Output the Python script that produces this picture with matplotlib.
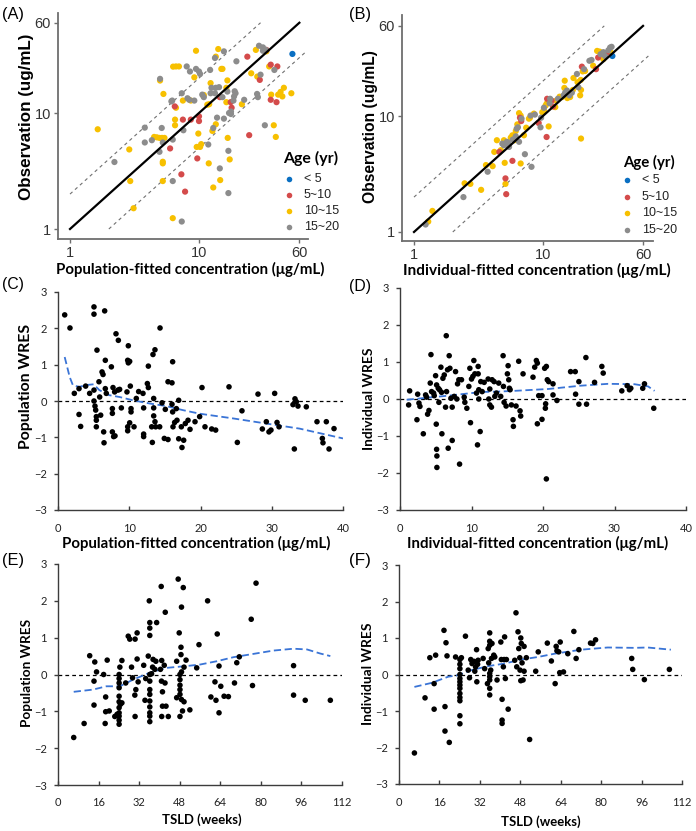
import matplotlib
matplotlib.use("Agg")
import matplotlib.pyplot as plt
from matplotlib.lines import Line2D
import numpy as np

# ---------------- DATA ----------------
age_groups = ["< 5", "5~10", "10~15", "15~20"]
age_colors = {"B": "#0a6fc2", "R": "#d44b4b", "Y": "#f7c000", "G": "#8c8c8c"}
age_codes = ["B", "R", "Y", "G"]

# Panel A: population-fitted vs observed
popA_pred = [1.64, 2.21, 2.88, 2.93, 3.11, 3.80, 3.80, 4.31, 4.49, 4.71, 4.94, 4.94, 4.99, 4.99, 5.14,
             5.17, 5.24, 5.30, 5.24, 5.24, 5.24, 5.40, 5.97, 6.11, 6.20, 6.26, 6.26, 6.26, 6.30, 6.49,
             6.52, 6.52, 6.63, 6.63, 6.99, 7.30, 7.35, 7.50, 7.50, 7.57, 7.80, 7.35, 8.03, 8.14, 8.40,
             8.51, 8.64, 8.64, 9.20, 9.20, 9.48, 9.48, 9.60, 9.88, 10.0, 10.0, 9.70, 10.0, 10.2, 10.2,
             10.4, 10.6, 10.8, 10.9, 10.9, 11.6, 11.8, 11.9, 12.0, 12.2, 12.3, 12.3, 12.5, 12.7, 12.9,
             12.9, 13.3, 13.5, 13.3, 13.5, 13.5, 13.8, 14.1, 14.3, 14.5, 14.5, 14.6, 14.9, 15.2, 15.2,
             15.6, 15.6, 16.3, 16.3, 16.6, 16.6, 16.7, 16.9, 16.9, 17.1, 17.6, 17.7, 17.7, 17.9, 17.3,
             18.5, 18.7, 19.2, 19.5, 18.9, 21.5, 22.4, 23.7, 24.5, 25.4, 27.6, 28.3, 28.2, 28.6, 29.2,
             29.6, 30.0, 31.3, 31.3, 32.4, 33.0, 33.3, 33.3, 35.0, 36.0, 36.0, 38.0, 36.3, 39.4, 39.9,
             40.5, 38.4, 41.1, 42.9, 44.3, 45.5, 52.0, 53.0]
obsA = [7.24, 3.78, 4.85, 2.59, 1.51, 7.48, 5.57, 5.83, 6.22, 6.17, 4.63, 6.10, 19.05, 19.7, 7.43,
        6.10, 5.57, 14.6, 3.80, 3.68, 2.59, 6.10, 4.95, 12.6, 12.8, 5.90, 2.59, 1.24, 25.1, 11.4,
        8.77, 7.84, 25.2, 11.1, 25.2, 2.96, 14.8, 12.8, 8.77, 7.10, 2.10, 1.16, 25.2, 13.4, 13.0,
        22.8, 12.8, 8.77, 12.8, 20.3, 34.4, 24.0, 5.10, 6.65, 9.36, 8.52, 4.06, 22.8, 21.7, 5.10,
        5.39, 14.4, 14.1, 14.3, 13.7, 11.8, 5.35, 3.68, 11.9, 23.5, 14.8, 18.1, 16.5, 7.01, 7.43,
        2.28, 29.8, 30.6, 14.8, 16.5, 8.0, 9.12, 35.6, 16.7, 13.7, 3.33, 2.64, 24.0, 24.0, 13.7,
        34.0, 8.94, 12.4, 16.5, 19.1, 15.3, 6.10, 4.72, 2.04, 10.0, 12.4, 10.3, 9.8, 11.1, 3.98,
        12.8, 13.9, 14.8, 27.9, 15.4, 11.9, 13.0, 30.6, 6.44, 22.0, 35.0, 20.6, 14.6, 13.7, 38.0,
        19.3, 21.4, 34.4, 36.8, 7.84, 35.0, 34.0, 35.0, 25.2, 26.1, 13.0, 7.84, 14.4, 6.22, 12.4,
        25.2, 23.5, 14.4, 15.2, 13.9, 16.5, 14.8, 32.3]
ageA = list("YGYYYGGGYY" "GYYGGYGYYY" "YYRGGGGYYR" "YYYYYRGYRG" "RGGGGGYRGY" "YGYYRRRGGY"
            "YGYYGYGYYG" "GYGYGYGYGG" "YGYGRGYYYG" "GGYYYGYGGG" "RGGRYGGGGG" "YGRRYYYGGG"
            "RGGGGGYRYR" "RYYYRRGYYY" "YYB")

# Panel B: individual-fitted vs observed
indB_pred = [1.23, 1.29, 1.39, 2.42, 2.47, 2.74, 3.32, 3.62, 3.73, 4.08, 4.20, 4.40, 4.60, 4.72, 4.85,
             4.99, 4.99, 5.06, 5.13, 5.13, 5.20, 5.26, 5.38, 5.47, 5.64, 5.81, 5.81, 5.85, 6.00, 6.17,
             6.17, 6.27, 6.34, 6.41, 6.54, 6.65, 6.73, 6.80, 6.84, 6.73, 6.54, 7.14, 7.26, 7.43, 7.80,
             7.95, 8.03, 8.17, 8.53, 8.68, 9.29, 9.70, 9.60, 9.90, 10.2, 10.2, 10.5, 10.7, 10.8, 10.7,
             11.1, 11.3, 11.4, 11.7, 12.0, 12.5, 12.7, 13.1, 13.5, 14.1, 14.5, 14.7, 14.8, 14.9, 15.4,
             15.5, 16.1, 16.3, 16.8, 17.1, 17.3, 18.4, 18.6, 18.9, 19.5, 19.7, 19.8, 20.1, 20.4, 20.9,
             21.3, 19.8, 23.0, 23.9, 24.6, 25.9, 26.4, 26.9, 27.6, 28.1, 29.5, 30.4, 31.3, 32.3, 33.3,
             34.2, 33.6, 34.7, 29.5]
obsB = [1.16, 1.23, 1.52, 2.00, 2.63, 2.60, 2.31, 3.78, 3.31, 3.70, 4.91, 6.19, 4.91, 5.08, 5.79,
        6.19, 5.60, 3.95, 2.90, 2.60, 2.12, 6.00, 5.87, 5.42, 6.52, 4.11, 6.83, 6.27, 6.19, 7.44,
        6.69, 7.79, 8.48, 8.00, 6.00, 9.68, 3.90, 9.06, 9.50, 10.1, 10.6, 6.83, 4.69, 7.94, 9.50,
        9.68, 10.1, 3.65, 10.5, 10.3, 8.71, 9.68, 8.00, 10.8, 11.2, 11.8, 12.3, 12.8, 14.1, 6.60,
        8.14, 12.9, 14.1, 13.6, 12.1, 11.95, 13.6, 14.1, 14.7, 14.6, 15.1, 17.5, 20.2, 15.9, 16.6,
        14.3, 15.1, 14.6, 15.9, 16.8, 21.3, 23.1, 19.6, 17.7, 15.1, 20.5, 16.8, 26.7, 24.3, 25.4,
        24.5, 6.40, 30.0, 30.5, 27.2, 25.4, 36.5, 32.0, 36.0, 34.2, 35.6, 33.0, 35.0, 37.0, 39.0,
        39.6, 35.6, 33.0, 31.0]
ageB = list("GYYGYYYYGY" "YYRYGYGYRY" "RGGGYRYGYY" "GGYGGRYRGY" "YYGYYYGGYG" "RGGYYGYYRR"
            "YGGRRYYGYY" "GYYGGYGYGY" "YGYGYYYRYG" "YYGGYRYRYG" "GGRGGGYBY")

# Panel C: population WRES vs population-fitted concentration
C_x = [0.94, 1.68, 2.29, 2.95, 2.95, 3.18, 3.88, 4.44, 5.05, 5.05, 5.05, 5.05, 5.19, 5.29, 5.38, 5.38,
       5.47, 5.38, 5.75, 5.85, 5.99, 6.18, 6.32, 6.41, 6.46, 6.55, 6.64, 6.64, 6.78, 7.49, 7.63, 7.63,
       7.63, 7.81, 8.00, 7.72, 7.95, 8.14, 8.47, 8.42, 8.65, 8.89, 9.68, 9.78, 9.87, 9.87, 9.78, 9.78,
       10.06, 10.25, 10.25, 10.06, 10.15, 10.67, 10.99, 11.32, 11.93, 12.02, 12.02, 12.02, 12.54, 12.68,
       12.68, 13.15, 13.24, 13.33, 13.43, 13.43, 13.43, 13.61, 13.61, 13.71, 14.32, 14.27, 14.60, 14.92,
       15.06, 15.44, 15.44, 16.00, 16.00, 16.09, 16.09, 16.14, 16.37, 16.61, 16.70, 16.94, 16.94, 17.31,
       17.40, 17.64, 17.87, 18.25, 18.53, 19.23, 19.88, 20.21, 20.63, 21.57, 22.13, 24.00, 25.17, 25.82,
       28.07, 28.68, 29.24, 29.61, 29.89, 30.41, 30.74, 31.02, 32.98, 33.17, 33.26, 33.45, 33.68, 34.85,
       36.35, 37.10, 37.19, 37.66, 38.04, 38.74]
C_y = [2.37, 2.01, 0.21, 0.34, -0.37, -0.70, 0.41, 0.21, 2.59, 2.39, 0.30, 0.00, -0.14, -0.25, -0.53,
       -0.43, 1.40, -0.71, 0.53, 0.11, -0.39, 0.80, 0.73, -0.85, -1.15, 2.48, 1.12, 0.34, 0.21, 0.94,
       -0.21, -0.34, -0.85, -0.98, -0.96, 0.37, 0.25, 1.85, 1.67, 0.30, 0.32, -0.19, 0.25, 1.12, 1.05,
       1.52, -0.71, -0.82, 1.09, -0.21, -0.30, -0.60, 0.41, -0.71, 0.07, 0.26, 0.21, -0.19, -0.91, -0.98,
       0.48, 0.96, 0.37, -0.71, -1.14, 1.28, 0.07, -0.19, -0.41, 1.41, -0.57, -0.71, 2.01, -0.71, -0.05,
       -1.03, -0.23, -1.06, 0.53, 0.50, -0.09, 1.08, -0.30, -0.71, -0.59, -0.21, -0.53, 0.02, -1.04,
       -0.71, -1.28, -1.08, -0.62, -0.53, -0.78, -0.57, -0.43, 0.37, -0.71, -0.77, -0.80, 0.39, -1.14,
       -0.27, 0.19, -0.77, -0.57, -0.85, -0.80, 0.21, -0.59, -0.71, -0.10, -1.32, 0.06, -0.02, -0.14,
       -0.16, -0.57, -1.03, -1.15, -0.57, -1.32, -0.76]
C_smooth_x = [0.94, 1.64, 2.1, 3.0, 4.0, 5.0, 5.8, 7.2, 8.65, 10.5, 12.9, 15.2, 17.5, 19.9, 24.6, 29.2, 33.9, 40.0]
C_smooth_y = [1.21, 0.66, 0.43, 0.39, 0.44, 0.46, 0.30, 0.16, 0.11, 0.02, -0.07, -0.14, -0.25, -0.35, -0.48, -0.62, -0.76, -1.03]

# Panel D: individual WRES vs individual-fitted concentration
D_x = [1.21, 1.35, 2.37, 2.47, 2.65, 2.79, 3.26, 3.58, 3.72, 3.86, 4.05, 4.33, 4.23, 4.42, 4.70, 4.79,
       4.98, 5.07, 5.12, 5.16, 5.16, 5.12, 5.35, 5.44, 5.53, 5.72, 5.81, 5.86, 6.00, 6.19, 6.37, 6.47,
       6.51, 6.65, 6.74, 6.88, 6.98, 7.12, 7.30, 7.30, 7.58, 7.77, 7.95, 8.05, 8.23, 8.33, 8.60, 8.98,
       9.07, 9.35, 9.63, 9.77, 9.86, 10.00, 10.19, 10.33, 10.47, 10.70, 10.84, 10.93, 10.93, 11.02,
       11.02, 11.21, 11.30, 11.49, 11.77, 12.33, 12.42, 12.56, 12.56, 12.79, 12.88, 13.16, 13.26, 13.49,
       13.81, 14.09, 14.42, 14.47, 14.56, 14.84, 15.02, 15.12, 15.21, 15.30, 15.40, 15.58, 15.81, 15.86,
       16.23, 16.60, 16.79, 16.88, 17.21, 18.60, 18.84, 19.07, 19.21, 19.21, 19.40, 19.86, 19.86, 20.23,
       20.33, 20.37, 20.47, 20.47, 20.60, 20.79, 21.40, 21.40, 21.95, 23.86, 24.51, 24.56, 25.02, 25.02,
       26.00, 26.09, 27.21, 28.23, 28.42, 31.02, 31.77, 32.09, 32.28, 33.95, 34.19, 35.49]
D_y = [-0.16, 0.22, -0.56, 0.13, -0.11, -0.20, -0.94, 0.11, 0.05, -0.41, -0.31, 1.20, 0.43, 0.20, 0.16,
       0.09, 0.63, -0.68, -1.36, -1.54, -1.85, 0.38, 0.29, -0.09, 0.25, 0.86, 0.18, -0.94, 0.56, 0.65,
       -0.22, 1.71, 0.20, 0.79, -1.33, 1.17, 0.83, 0.02, -1.12, -0.22, 0.07, 0.74, 0.00, 0.41, 0.52,
       -1.76, 0.52, 0.05, -0.09, -0.25, 0.34, 0.83, -0.64, 0.54, 0.61, 1.04, 0.68, 0.16, -1.24, 0.88,
       0.68, 0.25, 0.00, -0.88, 0.47, 0.20, 0.45, 0.54, 0.00, 0.27, -0.16, -0.22, 0.52, 0.47, 0.07,
       0.16, 0.43, 0.07, 1.17, 0.34, -0.09, -0.19, 0.68, 0.90, 0.52, 0.29, 0.25, -0.16, -0.56, -0.74,
       -0.19, 1.02, -0.32, -0.46, 0.68, 0.59, 0.86, 1.04, 0.97, -0.67, 0.09, 0.09, -0.55, 0.83, -0.25,
       -0.13, 0.88, -2.16, 0.52, 0.47, 0.41, 0.11, -0.04, 0.74, 0.74, 0.13, 0.47, -0.14, 1.12, -0.14,
       0.45, 0.88, 0.70, 0.22, 0.36, 0.25, 0.29, 0.29, 0.41, -0.25]
D_smooth_x = [0.93, 6.74, 11.4, 13.7, 16.0, 20.7, 25.3, 29.1, 32.8, 34.7, 35.6]
D_smooth_y = [-0.02, 0.09, 0.19, 0.20, 0.22, 0.27, 0.36, 0.41, 0.40, 0.34, 0.22]

# Panel E: population WRES vs TSLD
E_x = [6.2, 10.3, 12.5, 14.2, 14.5, 14.2, 15.2, 18.0, 18.6, 18.8, 18.8, 19.4, 20.2, 22.4, 23.3,
       24.1, 24.1, 24.1, 24.1, 24.1, 24.1, 24.1, 24.1, 24.1, 24.1, 24.1, 24.4, 24.6, 25.2, 25.2, 26.7,
       27.7, 28.3, 29.0, 29.4, 30.3, 30.4, 30.4, 30.7, 31.2, 31.2, 31.6, 33.8, 34.3, 34.6, 35.6, 36.0,
       36.2, 36.2, 36.2, 36.2, 36.2, 36.2, 36.2, 36.2, 36.2, 36.2, 36.2, 36.2, 36.9, 37.3, 37.5, 38.2,
       38.9, 38.6, 40.4, 40.7, 40.9, 40.8, 41.2, 41.2, 40.9, 41.9, 42.2, 42.3, 42.6, 43.5, 46.8, 46.8,
       47.4, 47.8, 48.1, 48.1, 48.1, 48.1, 48.1, 48.1, 48.5, 48.5, 48.7, 48.7, 48.7, 49.1, 49.4, 49.7,
       49.7, 50.5, 52.0, 54.7, 55.6, 59.0, 60.3, 61.9, 62.3, 62.8, 63.5, 63.5, 64.2, 65.5, 67.2, 69.6,
       70.5, 71.5, 76.2, 76.7, 78.1, 92.9, 92.9, 97.5, 107.4]
E_y = [-1.71, -1.33, 0.51, -0.18, 0.34, -0.83, 0.07, 0.00, -1.33, -0.61, -1.01, 0.39, -0.99, -1.14, -1.08,
       0.00, -0.11, -0.23, -0.36, -0.59, -0.74, -0.90, -1.04, -1.13, -1.24, -1.35, 0.20, -0.81, 0.38, -0.77,
       -0.23, 1.04, 0.96, 0.20, -0.09, -0.56, -1.14, 0.96, -0.41, 1.13, 0.42, -0.20, 0.25, -0.70, -0.11,
       0.50, 2.00, 1.41, 1.26, 1.06, 0.00, -0.18, -0.41, -0.54, -0.72, -0.88, -1.04, -1.13, -1.28, 0.02,
       0.20, 0.41, 0.14, 1.41, 0.36, 0.14, 2.39, 0.38, -0.18, -0.47, -0.86, -1.14, 0.25, -0.23, 1.69,
       -0.86, -1.14, -0.63, 0.36, 2.59, 1.13, 0.00, -0.14, -0.29, -0.41, -0.54, -1.14, 0.74, 0.54, 1.83,
       0.07, -0.68, -0.99, 2.36, 0.20, -0.74, 0.39, -0.96, 0.18, 0.81, 2.00, -0.61, -0.20, -0.70, 1.10,
       0.23, -1.04, -0.32, -0.59, -0.60, -0.23, 0.32, 0.48, 1.50, -0.30, 2.48, 0.24, -0.56, -0.70, -0.70]
E_smooth_x = [6.2, 13.8, 19.1, 24.4, 29.6, 36.2, 42.8, 50.7, 56.0, 62.6, 69.2, 77.1, 85.0, 92.9, 98.2, 103.4, 107.4]
E_smooth_y = [-0.47, -0.41, -0.32, -0.32, -0.14, 0.05, 0.18, 0.23, 0.27, 0.36, 0.47, 0.56, 0.65, 0.70, 0.68, 0.57, 0.50]

# Panel F: individual WRES vs TSLD
F_x = [6.1, 10.3, 12.2, 13.9, 13.9, 14.5, 17.8, 18.2, 18.2, 18.6, 19.0, 19.9, 22.4,
       24.1, 24.1, 24.1, 24.1, 24.1, 24.1, 24.1, 24.1, 24.1, 24.1, 24.1, 24.1, 24.1,
       24.7, 26.3, 27.4, 27.9, 28.4, 28.9, 29.7, 30.0, 30.3, 30.7, 30.8, 31.1, 31.3, 33.3, 33.9, 35.0,
       35.3, 35.5, 35.9, 35.9, 35.9, 35.9, 35.9, 35.9, 35.9, 35.9, 36.3, 36.6, 36.8, 37.5, 37.9, 38.8,
       40.3, 40.5, 40.8, 40.8, 40.8, 41.3, 41.6, 41.8, 42.1, 42.5, 43.2, 45.8, 46.3, 46.6, 47.1, 47.4,
       47.8, 47.9, 48.2, 48.2, 48.4, 48.7, 49.1, 49.5, 49.5, 50.4, 51.7, 54.1, 55.1, 58.7, 60.3, 61.8,
       62.2, 62.5, 63.2, 63.8, 63.6, 65.1, 66.8, 69.2, 70.1, 71.2, 75.8, 76.7, 77.8, 92.1, 92.5, 97.1,
       107.0]
F_y = [-2.15, -0.64, 0.46, -0.25, -0.95, 0.53, 1.21, -0.88, -1.55, 0.87, 0.51, -1.86, 0.48,
       0.00, -0.11, -0.20, -0.29, -0.38, -0.52, -0.63, -0.72, -1.13, -1.35, 0.41, 0.28, 0.16,
       0.46, 1.05, 0.12, -0.09, 0.41, 0.30, 0.36, 0.09, 0.21, 0.68, -0.20, 0.28, 0.39, 0.44, 0.16, -0.25,
       0.71, 0.32, 1.14, 0.91, 0.80, 0.03, -0.06, -0.15, -0.38, -0.56, 0.12, 0.44, 0.85, 0.53, 0.48, -0.15,
       0.89, 0.41, -0.68, -1.25, -1.34, 0.21, 0.41, 1.03, -0.11, 0.41, -0.95, 0.39, 1.69, 0.21, 1.17, 0.71,
       0.46, 0.12, 1.00, -0.17, 0.85, 0.32, -0.15, 0.77, 0.09, 0.46, -1.78, 0.09, 0.62, 0.86, 0.37, -0.25,
       0.77, 0.65, 0.62, 0.89, 0.05, 0.07, 0.57, 1.18, 0.44, 0.68, 0.86, 0.85, 0.95, 0.44, 0.14, -0.14,
       0.14]
F_smooth_x = [6.1, 12.9, 19.5, 23.4, 28.7, 35.3, 41.8, 48.4, 55.0, 61.6, 72.1, 82.6, 93.2, 98.4, 107.6]
F_smooth_y = [-0.34, -0.23, -0.06, -0.02, 0.12, 0.23, 0.30, 0.41, 0.48, 0.57, 0.68, 0.74, 0.73, 0.74, 0.68]

# ---------------- FIGURE ----------------
W, H = 696, 831
fig = plt.figure(figsize=(W / 100, H / 100), dpi=100)
fig.patch.set_facecolor("white")
renderer = fig.canvas.get_renderer()

ARIAL = "Liberation Sans"
CAL = "Lato"


def add_px_axes(l, t, r, b):
    return fig.add_axes([l / W, 1 - b / H, (r - l) / W, (b - t) / H])


def fit_text(x, y, s, target, family, weight="normal", rotation=0, ha="center", color="black"):
    """Place text at pixel position (from top-left) with size tuned to a target length in px."""
    t = fig.text(x / W, 1 - y / H, s, fontsize=10, fontfamily=family, fontweight=weight,
                 rotation=rotation, ha=ha, va="center", color=color)
    bb = t.get_window_extent(renderer)
    length = bb.height if rotation == 90 else bb.width
    t.set_fontsize(10 * target / length)
    return t


def age_legend(title_xy, title_w, marker_x, text_x, rows_y, entry_w):
    fit_text(title_xy[0], title_xy[1], "Age (yr)", title_w, CAL, "bold", ha="left")
    probe = fig.text(0, 0, "10~15", fontsize=10, fontfamily=ARIAL)
    size = 10 * entry_w / probe.get_window_extent(renderer).width
    probe.remove()
    for code, lab, ry in zip(age_codes, age_groups, rows_y):
        fig.add_artist(Line2D([marker_x / W], [1 - ry / H], transform=fig.transFigure, marker="o",
                              ls="none", markersize=4.0, markerfacecolor=age_colors[code],
                              markeredgecolor="none"))
        fig.text(text_x / W, 1 - ry / H, lab, fontsize=size, fontfamily=ARIAL, ha="left",
                 va="center", color="#222222")


def gof_panel(ax, xs, ys, ages, xlim, ylim):
    ax.set_xscale("log")
    ax.set_yscale("log")
    ax.set_xlim(*xlim)
    ax.set_ylim(*ylim)
    xs = np.array(xs)
    ys = np.array(ys)
    ages = np.array(ages)
    ax.plot([1, 60], [1, 60], color="black", lw=1.6, zorder=3)
    ax.plot([1, 30], [2, 60], color="#707070", lw=0.8, ls=(0, (3, 3)), zorder=1)
    ax.plot([2, 66], [1, 33], color="#707070", lw=0.8, ls=(0, (3, 3)), zorder=1)
    for code in ["Y", "R", "G", "B"]:
        m = ages == code
        ax.scatter(xs[m], ys[m], s=20, color=age_colors[code], edgecolors="none", zorder=2)
    for s in ["top", "right"]:
        ax.spines[s].set_visible(False)
    for s in ["left", "bottom"]:
        ax.spines[s].set_color("#6e6e6e")
        ax.spines[s].set_linewidth(1.3)
    ax.set_xticks([1, 10, 60])
    ax.set_xticklabels(["1", "10", "60"])
    ax.set_yticks([1, 10, 60])
    ax.set_yticklabels(["1", "10", "60"])
    ax.minorticks_off()
    ax.tick_params(axis="both", length=3, width=1, color="#6e6e6e", labelsize=10.5,
                   labelcolor="#333333", pad=2)
    for lab in ax.get_xticklabels() + ax.get_yticklabels():
        lab.set_fontfamily(ARIAL)


def wres_panel(ax, xs, ys, sx, sy, xlim, xticks):
    ax.set_xlim(*xlim)
    ax.set_ylim(-3, 3)
    ax.axhline(0, color="black", lw=0.9, ls=(0, (3, 2.5)), zorder=1)
    ax.scatter(xs, ys, s=16, color="black", edgecolors="none", zorder=3)
    ax.plot(sx, sy, color="#3a74d6", lw=1.3, ls=(0, (4, 2)), zorder=2)
    for s in ["top", "right"]:
        ax.spines[s].set_visible(False)
    for s in ["left", "bottom"]:
        ax.spines[s].set_color("#3c3c3c")
        ax.spines[s].set_linewidth(1.0)
    ax.set_xticks(xticks)
    ax.set_yticks([-3, -2, -1, 0, 1, 2, 3])
    ax.tick_params(axis="y", direction="out", length=3, width=1, color="#3c3c3c",
                   labelsize=8, labelcolor="#222222", pad=5)
    ax.tick_params(axis="x", direction="in", length=3, width=1, color="#3c3c3c",
                   labelsize=8, labelcolor="#222222", pad=9)
    for lab in ax.get_xticklabels() + ax.get_yticklabels():
        lab.set_fontfamily(CAL)


axA = add_px_axes(58, 13, 308, 239)
gof_panel(axA, popA_pred, obsA, ageA, (0.807, 70), (0.82, 72.8))
axB = add_px_axes(402, 15, 653, 241)
gof_panel(axB, indB_pred, obsB, ageB, (0.807, 71.7), (0.836, 74.5))

axC = add_px_axes(58, 292, 343, 510)
wres_panel(axC, C_x, C_y, C_smooth_x, C_smooth_y, (0, 40), [0, 10, 20, 30, 40])
axD = add_px_axes(400, 288, 686, 510)
wres_panel(axD, D_x, D_y, D_smooth_x, D_smooth_y, (0, 40), [0, 10, 20, 30, 40])
axE = add_px_axes(58, 564, 342, 785)
wres_panel(axE, E_x, E_y, E_smooth_x, E_smooth_y, (0, 112), [0, 16, 32, 48, 64, 80, 96, 112])
axF = add_px_axes(399, 565, 682, 784)
wres_panel(axF, F_x, F_y, F_smooth_x, F_smooth_y, (0, 112), [0, 16, 32, 48, 64, 80, 96, 112])

# axis titles
fit_text(190, 269, "Population-fitted concentration (\u03bcg/mL)", 268, CAL, "bold")
fit_text(27, 117, "Observation (ug/mL)", 166, ARIAL, "bold", rotation=90)
fit_text(537, 270, "Individual-fitted concentration (\u03bcg/mL)", 268, CAL, "bold")
fit_text(371, 127, "Observation (ug/mL)", 153, ARIAL, "bold", rotation=90)

fit_text(196, 543, "Population-fitted concentration (\u03bcg/mL)", 268, CAL, "bold")
fit_text(26, 386, "Population WRES", 126, CAL, "bold", rotation=90)
fit_text(538, 543, "Individual-fitted concentration (\u03bcg/mL)", 263, CAL, "bold")
fit_text(369, 399, "Individual WRES", 102, CAL, "bold", rotation=90)

fit_text(202, 820, "TSLD (weeks)", 80, CAL, "bold")
fit_text(27, 673, "Population WRES", 108, CAL, "bold", rotation=90)
fit_text(541, 822, "TSLD (weeks)", 80, CAL, "bold")
fit_text(368, 674, "Individual WRES", 102, CAL, "bold", rotation=90)

# legends
age_legend((283, 158), 55, 289, 304, [179, 195, 211, 227], 35)
age_legend((623, 162), 52, 627, 642, [180, 197, 213, 230], 35)

# panel letters
for lab, (x, y) in {"(A)": (2, 14), "(B)": (349, 15), "(C)": (2, 285), "(D)": (349, 286),
                    "(E)": (2, 560), "(F)": (349, 561)}.items():
    fit_text(x, y, lab, 22, ARIAL, ha="left")

fig.savefig("out.png", dpi=100)
